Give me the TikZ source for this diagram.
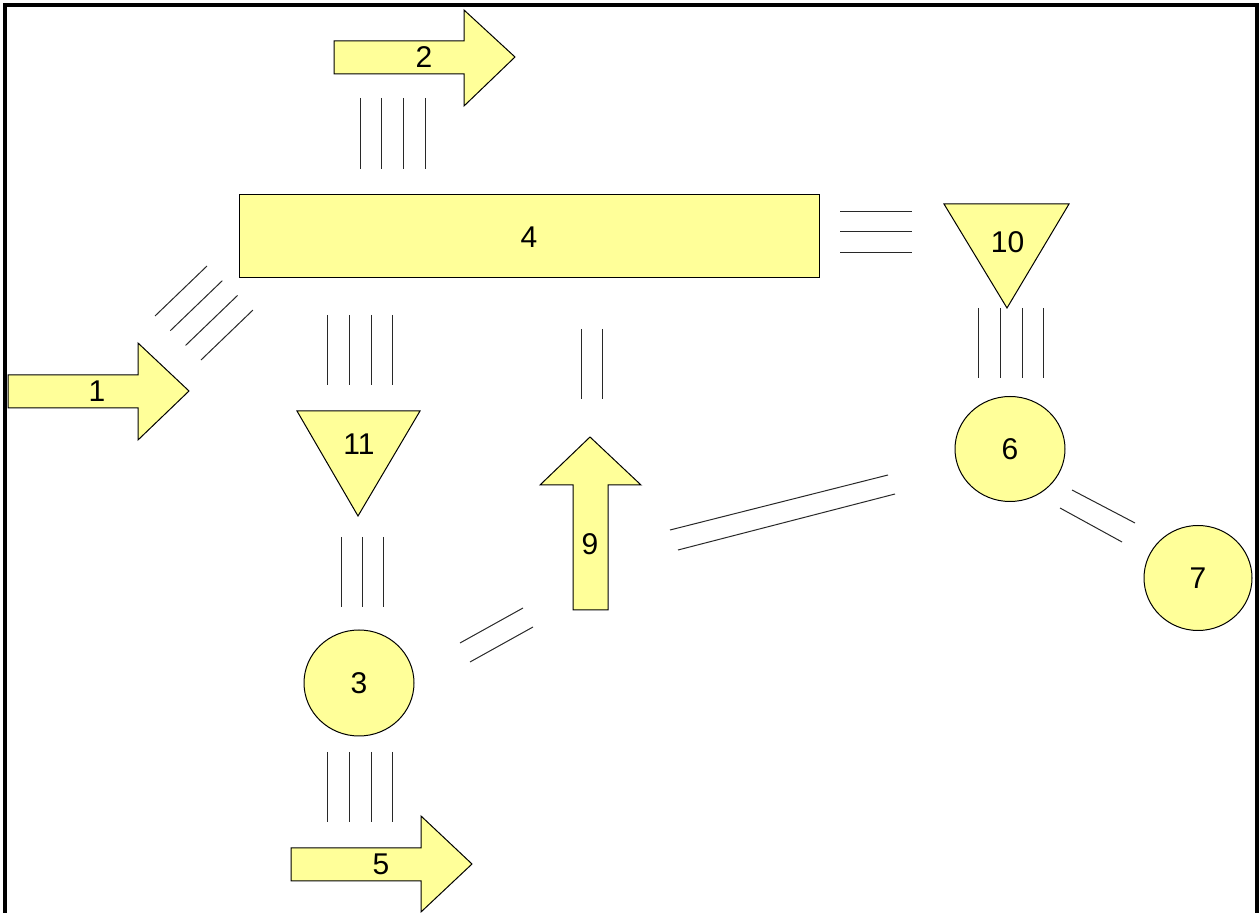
\documentclass[tikz,border=0pt]{standalone}
\usepackage{fontspec}
\setmainfont{Liberation Sans}
\usetikzlibrary{shapes.geometric}
\definecolor{fillyel}{RGB}{255,255,153}
\definecolor{linegray}{RGB}{40,40,40}
\tikzset{
  shapeyel/.style={draw=black, fill=fillyel, line width=0.5pt, line join=miter},
  lbl/.style={inner sep=0pt, font=\fontsize{15}{18}\selectfont},
  bond/.style={draw=linegray, line width=0.5pt},
}
\begin{document}
\begin{tikzpicture}[x=0.5pt, y=-0.5pt]
\useasboundingbox (0,0) rectangle (1259,913);
% frame
\draw[line width=1.6pt] (5,913) -- (5,5) -- (1257,5) -- (1257,913);

% arrow 1
\draw[shapeyel] (8,375) -- (138,375) -- (138,343) -- (189,391) -- (138,440) -- (138,408) -- (8,408) -- cycle;
\node[lbl] (n1) at (97,391) {1};
% arrow 2
\draw[shapeyel] (334,41) -- (464,41) -- (464,10) -- (515,57) -- (464,106) -- (464,74) -- (334,74) -- cycle;
\node[lbl] (n2) at (424,57) {2};
% box 4
\draw[shapeyel] (239,195) rectangle (819,278);
\node[lbl] (n4) at (529,237) {4};
% triangle 10
\draw[shapeyel] (944,204) -- (1069,204) -- (1007,308) -- cycle;
\node[lbl] (n10) at (1007.5,242) {10};
% triangle 11
\draw[shapeyel] (297,411) -- (420,411) -- (358,516) -- cycle;
\node[lbl] (n11) at (359,444) {11};
% arrow 9 (up)
\draw[shapeyel] (573,610) -- (573,485) -- (540,485) -- (590,437) -- (641,485) -- (608,485) -- (608,610) -- cycle;
\node[lbl] (n9) at (590,544) {9};
% circles
\draw[shapeyel] (1010,449) ellipse [x radius=55, y radius=52.5];
\node[lbl] (n6) at (1010,449) {6};
\draw[shapeyel] (1198,578) ellipse [x radius=54, y radius=52.5];
\node[lbl] (n7) at (1198,578) {7};
\draw[shapeyel] (359,683) ellipse [x radius=55, y radius=53];
\node[lbl] (n3) at (359,683) {3};
% arrow 5
\draw[shapeyel] (291,848) -- (421,848) -- (421,816) -- (472,864) -- (421,912) -- (421,881) -- (291,881) -- cycle;
\node[lbl] (n5) at (381,864) {5};

% bonds 2-4
\foreach \x in {360,381,403,425} \draw[bond] (\x,98) -- (\x,169);
% bonds 1-4
\foreach \i in {0,1,2,3} \draw[bond] (155+15.3*\i,316+14.7*\i) -- (207+15.3*\i,266+14.7*\i);
% bonds 4-11
\foreach \x in {327,349,371,392} \draw[bond] (\x,315) -- (\x,385);
% bonds 4-9
\foreach \x in {581,602} \draw[bond] (\x,329) -- (\x,399);
% bonds 4-10
\foreach \y in {212,232,253} \draw[bond] (840,\y) -- (912,\y);
% bonds 10-6
\foreach \x in {978,1000,1022,1043} \draw[bond] (\x,308) -- (\x,378);
% bonds 11-3
\foreach \x in {341,362,383} \draw[bond] (\x,537) -- (\x,607);
% bonds 3-5
\foreach \x in {327,349,371,392} \draw[bond] (\x,752) -- (\x,822);
% bonds 3-9
\draw[bond] (460,643) -- (523,608);
\draw[bond] (470,662) -- (533,627);
% bonds 9-6
\draw[bond] (670,530) -- (888,475);
\draw[bond] (678,550) -- (895,494);
% bonds 6-7
\draw[bond] (1072,490) -- (1135,523);
\draw[bond] (1060,508) -- (1122,542);
\end{tikzpicture}
\end{document}
